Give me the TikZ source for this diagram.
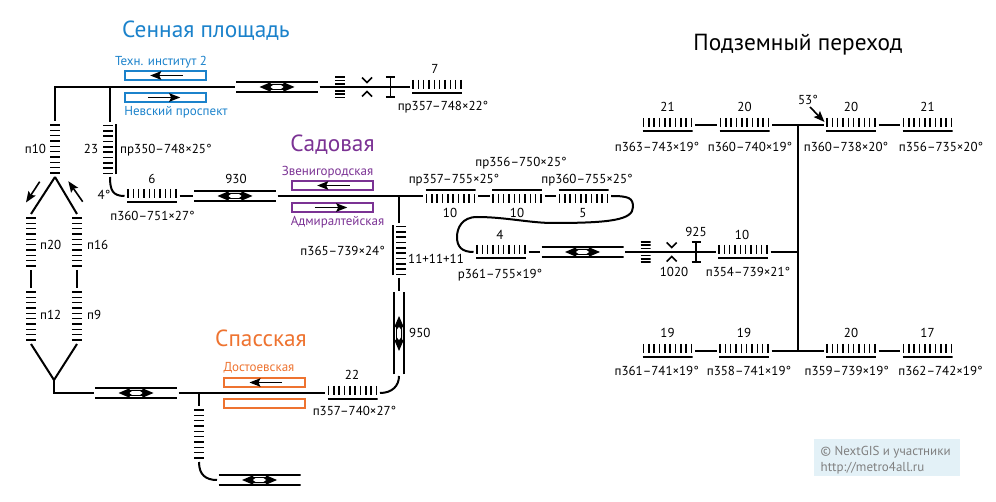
\documentclass[tikz,border=0pt]{standalone}
\usepackage{fontspec}
\setmainfont{PT Sans}
\usetikzlibrary{arrows.meta,positioning}

\definecolor{sennaya}{HTML}{1B82CB}
\definecolor{sadovaya}{HTML}{7B3294}
\definecolor{spasskaya}{HTML}{EE7330}
\definecolor{creditbg}{HTML}{E3F1F7}

% stairs: rail on one side, treads on the other (#1 is the side, 1 or -1)
\newcommand{\treadsH}[1]{%
  \begin{scope}[shift={(path picture bounding box.center)}]
    \foreach \i in {0,...,9}
      \draw[line width=1.6pt] ({(\i-4.5)*5.33pt},{#1*7pt}) -- ({(\i-4.5)*5.33pt},{#1*-2pt});
    \draw[line width=2pt] (-25pt,{#1*-6pt}) -- (25pt,{#1*-6pt});
  \end{scope}}
\newcommand{\treadsV}[1]{%
  \begin{scope}[shift={(path picture bounding box.center)}]
    \foreach \i in {0,...,9}
      \draw[line width=1.6pt] ({#1*-7pt},{(\i-4.5)*5.33pt}) -- ({#1*3pt},{(\i-4.5)*5.33pt});
    \draw[line width=2pt] ({#1*6pt},-25pt) -- ({#1*6pt},25pt);
  \end{scope}}
% double line passage with two way arrow
\newcommand{\corridorH}{%
  \begin{scope}[shift={(path picture bounding box.center)}]
    \draw[line width=2pt] (-41pt,5pt) -- (41pt,5pt);
    \draw[line width=2pt] (-41pt,-5pt) -- (41pt,-5pt);
    \fill (-17.5pt,0pt) -- (-7pt,4.5pt) -- (-6pt,3pt) -- (6pt,3pt) -- (7pt,4.5pt) -- (17.5pt,0pt)
      -- (7pt,-4.5pt) -- (6pt,-3pt) -- (-6pt,-3pt) -- (-7pt,-4.5pt) -- cycle;
    \fill[white] (-6.5pt,0pt) -- (-4pt,1.9pt) -- (4pt,1.9pt) -- (6.5pt,0pt) -- (4pt,-1.9pt) -- (-4pt,-1.9pt) -- cycle;
  \end{scope}}
\newcommand{\corridorV}{%
  \begin{scope}[shift={(path picture bounding box.center)}]
    \draw[line width=2pt] (5pt,-41pt) -- (5pt,41pt);
    \draw[line width=2pt] (-5pt,-41pt) -- (-5pt,41pt);
    \fill (0pt,-17.5pt) -- (4.5pt,-7pt) -- (3pt,-6pt) -- (3pt,6pt) -- (4.5pt,7pt) -- (0pt,17.5pt)
      -- (-4.5pt,7pt) -- (-3pt,6pt) -- (-3pt,-6pt) -- (-4.5pt,-7pt) -- cycle;
    \fill[white] (0pt,-6.5pt) -- (1.9pt,-4pt) -- (1.9pt,4pt) -- (0pt,6.5pt) -- (-1.9pt,4pt) -- (-1.9pt,-4pt) -- cycle;
  \end{scope}}

\tikzset{
  box/.style={inner sep=0pt,outer sep=2.5pt,path picture={#1}},
  stairsS/.style={box={\treadsH{1}},minimum width=50pt,minimum height=14pt},
  stairsN/.style={box={\treadsH{-1}},minimum width=50pt,minimum height=14pt},
  stairsE/.style={box={\treadsV{1}},minimum width=14pt,minimum height=50pt},
  stairsW/.style={box={\treadsV{-1}},minimum width=14pt,minimum height=50pt},
  ladder/.style={box={%
    \begin{scope}[shift={(path picture bounding box.center)}]
      \foreach \i in {0,...,9}
        \draw[line width=1.6pt] (-5pt,{(\i-4.5)*5.33pt}) -- (5pt,{(\i-4.5)*5.33pt});
    \end{scope}},outer sep=3pt,minimum width=14pt,minimum height=50pt},
  passH/.style={box={\corridorH},minimum width=82pt,minimum height=12pt,outer sep=1.5pt},
  passV/.style={box={\corridorV},minimum width=12pt,minimum height=82pt,outer sep=1.5pt},
  hatch/.style={box={%
    \begin{scope}[shift={(path picture bounding box.center)}]
      \foreach \i in {-3,...,3}
        \draw[line width=1.6pt] (-5pt,{\i*3.4pt}) -- (5pt,{\i*3.4pt});
    \end{scope}},minimum width=10pt,minimum height=24pt},
  narrow/.style={box={%
    \begin{scope}[shift={(path picture bounding box.center)}]
      \draw[line width=1.6pt] (-5pt,9.5pt) -- (0pt,4.5pt) -- (5pt,9.5pt);
      \draw[line width=1.6pt] (-5pt,-9.5pt) -- (0pt,-4.5pt) -- (5pt,-9.5pt);
    \end{scope}},minimum width=12pt,minimum height=22pt},
  beam/.style={box={%
    \begin{scope}[shift={(path picture bounding box.center)}]
      \draw[line width=1.6pt] (-4.5pt,10pt) -- (4.5pt,10pt);
      \draw[line width=1.6pt] (-4.5pt,-10pt) -- (4.5pt,-10pt);
      \draw[line width=1.6pt] (0pt,10pt) -- (0pt,-10pt);
    \end{scope}},minimum width=11pt,minimum height=22pt},
  platform/.style={draw=#1,line width=1.7pt,inner sep=0pt,minimum width=81pt,minimum height=9pt},
  link/.style={line width=2pt},
  flow/.style={line width=1.6pt,-{Stealth[length=11pt,width=8.5pt,inset=2pt]}},
  lbl/.style={inner sep=0pt,text height=9.5pt,text depth=0pt,font=\fontsize{13}{16}\selectfont},
  title/.style={inner sep=0pt,text height=16pt,text depth=0pt,font=\fontsize{23.3}{26}\selectfont}
}

\begin{document}
\begin{tikzpicture}[x=1pt,y=-1pt]
  \useasboundingbox (0,0) rectangle (996,502);

  % stations
  \node[title,text=sennaya] (tSennaya) at (206,29.5) {Сенная площадь};
  \node[title,text=sadovaya] (tSadovaya) at (332.5,144) {Садовая};
  \node[title,text=spasskaya] (tSpasskaya) at (261,338.7) {Спасская};
  \node[title] (tPerehod) at (798,42.7) {Подземный переход};

  \node[platform=sennaya] (plTech) at (165.5,75.5) {};
  \node[platform=sennaya] (plNevsky) at (165.5,97.5) {};
  \node[platform=sadovaya] (plZven) at (332.5,185.5) {};
  \node[platform=sadovaya] (plAdm) at (332.5,207.5) {};
  \node[platform=spasskaya] (plDost) at (264.5,382.5) {};
  \node[platform=spasskaya] (plDost2) at (264.5,403.5) {};
  \draw[flow] ([xshift=17.4pt]plTech.center) -- ([xshift=-15.3pt]plTech.center);
  \draw[flow] ([xshift=-17.6pt]plNevsky.center) -- ([xshift=14.7pt]plNevsky.center);
  \draw[flow] ([xshift=17.4pt]plZven.center) -- ([xshift=-15.3pt]plZven.center);
  \draw[flow] ([xshift=-17.6pt]plAdm.center) -- ([xshift=14.7pt]plAdm.center);
  \draw[flow] ([xshift=17.7pt]plDost.center) -- ([xshift=-15pt]plDost.center);

  \node[lbl,text=sennaya] (lTech) at (161,61) {Техн. институт 2};
  \node[lbl,text=sennaya] (lNevsky) at (176,110.5) {Невский проспект};
  \node[lbl,text=sadovaya] (lZven) at (327.5,171) {Звенигородская};
  \node[lbl,text=sadovaya] (lAdm) at (337.5,221) {Адмиралтейская};
  \node[lbl,text=spasskaya] (lDost) at (259,367) {Достоевская};

  % Sennaya side
  \node[ladder] (lad10) at (55,149) {};
  \node[stairsE] (st23) at (110,149.5) {};
  \node[stairsS] (st6) at (152,196) {};
  \node[passH] (passSen) at (277,87) {};
  \node[passH] (passSad) at (235,196) {};
  \node[hatch] (hatchSen) at (340,87.5) {};
  \node[narrow] (narSen) at (367,87) {};
  \node[beam] (beamSen) at (390.3,87) {};
  \node[stairsS] (st7) at (437,87) {};
  \coordinate (jSen) at (110,87);
  \draw[link] (lad10.north) |- (passSen.west);
  \draw[link] (jSen) -- (st23.north);
  \draw[link] (passSen.east) -- (st7.west);
  \draw[link] (st23.south) .. controls +(0,13) and +(-12,0) .. (st6.west);
  \draw[link] (st6.east) -- (passSad.west);

  % fork on the left
  \node[ladder] (lad20) at (31,242) {};
  \node[ladder] (lad16) at (77,242) {};
  \node[ladder] (lad12) at (31,316) {};
  \node[ladder] (lad9) at (77,316) {};
  \coordinate (forkLow) at (54,380);
  \coordinate (arrA) at (39.7,181.7);
  \coordinate (arrB) at (26,202.5);
  \coordinate (arrC) at (82.7,201.7);
  \coordinate (arrD) at (68.3,181.2);
  \draw[link] (lad10.south) -- (lad20.north);
  \draw[link] (lad10.south) -- (lad16.north);
  \draw[link] (lad20.south) -- (lad12.north);
  \draw[link] (lad16.south) -- (lad9.north);
  \draw[link] (lad12.south) -- (forkLow);
  \draw[link] (lad9.south) -- (forkLow);
  \draw[flow] (arrA) -- (arrB);
  \draw[flow] (arrC) -- (arrD);

  % Spasskaya side
  \node[passH] (passLow) at (136,393) {};
  \node[stairsS] (st22) at (352.5,393) {};
  \node[ladder] (ladLow) at (199,434) {};
  \node[passH] (passBot) at (259.5,480) {};
  \coordinate (jLow) at (199,393);
  \draw[link] (forkLow) |- (passLow.west);
  \draw[link] (passLow.east) -- (st22.west);
  \draw[link] (jLow) -- (ladLow.north);
  \draw[link] (ladLow.south) .. controls +(0,13) and +(-11,0) .. (passBot.west);

  % Sadovaya side
  \node[stairsN] (st10a) at (450.5,196) {};
  \node[stairsN] (st10b) at (517,196) {};
  \node[stairsN] (st5) at (583.5,196) {};
  \node[stairsS] (st4) at (501,252) {};
  \node[stairsW] (st365) at (399,250.5) {};
  \node[passV] (pass950) at (399,333.5) {};
  \node[passH] (passMid) at (582.5,252) {};
  \node[hatch] (hatchMid) at (645.5,252) {};
  \node[narrow] (narMid) at (671.7,252) {};
  \node[beam] (beamMid) at (696,252) {};
  \node[stairsS] (st10c) at (743,252) {};
  \coordinate (jSad) at (399,196);
  \draw[link] (passSad.east) -- (st10a.west);
  \draw[link] (jSad) -- (st365.north);
  \draw[link] (st365.south) -- (pass950.north);
  \draw[link] (st22.east) .. controls +(12,0) and +(0,10) .. (pass950.south);
  \draw[link] (st10a.east) -- (st10b.west);
  \draw[link] (st10b.east) -- (st5.west);
  \draw[link] (st5.east) .. controls +(18,0) and (633,198) .. (633,207)
    .. controls (633,220) and (610,223) .. (553,223)
    .. controls (530,223) and (505,217) .. (477,217)
    .. controls (462,217) and (457,228) .. (457,237)
    .. controls (457,247) and (462,252) .. (st4.west);
  \draw[link] (st4.east) -- (passMid.west);
  \draw[link] (passMid.east) -- (st10c.west);

  % underpass
  \node[stairsS] (stT1) at (667.5,125) {};
  \node[stairsS] (stT2) at (744.5,125) {};
  \node[stairsS] (stT3) at (851,125) {};
  \node[stairsS] (stT4) at (927.5,125) {};
  \node[stairsS] (stB1) at (667.5,351) {};
  \node[stairsS] (stB2) at (744,351) {};
  \node[stairsS] (stB3) at (851,351) {};
  \node[stairsS] (stB4) at (927.5,351) {};
  \coordinate (jTop) at (798,125);
  \coordinate (jMid) at (798,252);
  \coordinate (jBot) at (798,351);
  \coordinate (arrE) at (810,107);
  \coordinate (arrF) at (824.5,122);
  \draw[link] (stT1.east) -- (stT2.west);
  \draw[link] (stT2.east) -- (stT3.west);
  \draw[link] (stT3.east) -- (stT4.west);
  \draw[link] (stB1.east) -- (stB2.west);
  \draw[link] (stB2.east) -- (stB3.west);
  \draw[link] (stB3.east) -- (stB4.west);
  \draw[link] (jTop) -- (jBot);
  \draw[link] (st10c.east) -- (jMid);
  \draw[flow] (arrE) -- (arrF);

  % numbers and sizes
  \node[lbl] (n10) at (35.5,149) {п10};
  \node[lbl] (n23) at (91,149) {23};
  \node[lbl,anchor=west] (s23) at (120,149) {пр350–748×25°};
  \node[lbl] (n6) at (152,179) {6};
  \node[lbl] (n930) at (236,179) {930};
  \node[lbl] (n4d) at (104,194.5) {4°};
  \node[lbl] (s6) at (152.5,215.5) {п360–751×27°};
  \node[lbl,anchor=west] (n20) at (40,245) {п20};
  \node[lbl,anchor=west] (n16) at (87,245) {п16};
  \node[lbl,anchor=west] (n12) at (40,315) {п12};
  \node[lbl,anchor=west] (n9) at (87,315) {п9};
  \node[lbl] (n7) at (435,69) {7};
  \node[lbl] (s7) at (443,106) {пр357–748×22°};
  \node[lbl] (s10b) at (521,162) {пр356–750×25°};
  \node[lbl] (s10a) at (454,179) {пр357–755×25°};
  \node[lbl] (s5) at (587,179) {пр360–755×25°};
  \node[lbl] (n10a) at (450,213) {10};
  \node[lbl] (n10b) at (517,213) {10};
  \node[lbl] (n5) at (583,213) {5};
  \node[lbl,anchor=east] (s365) at (385,251) {п365–739×24°};
  \node[lbl,anchor=west] (n33) at (408,258.5) {11+11+11};
  \node[lbl] (n4) at (500,235) {4};
  \node[lbl] (s4) at (500,274) {р361–755×19°};
  \node[lbl,anchor=west] (n950) at (409,332.5) {950};
  \node[lbl] (n22) at (352,374.5) {22};
  \node[lbl] (s22) at (354.5,411) {п357–740×27°};
  \node[lbl] (n925) at (696,232) {925};
  \node[lbl] (n10c) at (742,235) {10};
  \node[lbl] (n1020) at (674,272) {1020};
  \node[lbl] (s10c) at (748,272) {п354–739×21°};
  \node[lbl] (n53) at (808,100) {53°};

  \node[lbl,above=4pt of stT1] (nT1) {21};
  \node[lbl,above=4pt of stT2] (nT2) {20};
  \node[lbl,above=4pt of stT3] (nT3) {20};
  \node[lbl,above=4pt of stT4] (nT4) {21};
  \node[lbl] (sT1) at (657,147) {п363–743×19°};
  \node[lbl] (sT2) at (750,147) {п360–740×19°};
  \node[lbl] (sT3) at (846,147) {п360–738×20°};
  \node[lbl] (sT4) at (941,147) {п356–735×20°};
  \node[lbl,above=4pt of stB1] (nB1) {19};
  \node[lbl,above=4pt of stB2] (nB2) {19};
  \node[lbl,above=4pt of stB3] (nB3) {20};
  \node[lbl,above=4pt of stB4] (nB4) {17};
  \node[lbl] (sB1) at (656.7,371) {п361–741×19°};
  \node[lbl] (sB2) at (749,371) {п358–741×19°};
  \node[lbl] (sB3) at (846.7,371) {п359–739×19°};
  \node[lbl] (sB4) at (940.5,371) {п362–742×19°};

  % credits
  \node[fill=creditbg,minimum width=146pt,minimum height=36.5pt,inner sep=0pt] (credit) at (887,457.5) {};
  \node[lbl,text=black!50,anchor=west] (lCreditA) at (820.5,451) {© NextGIS и участники};
  \node[lbl,text=black!50,anchor=west] (lCreditB) at (820.5,467) {http://metro4all.ru};
\end{tikzpicture}
\end{document}
